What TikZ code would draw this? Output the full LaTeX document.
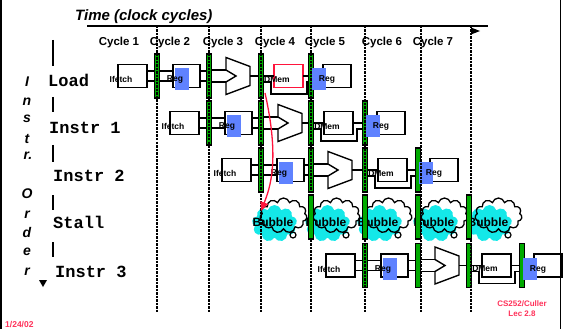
\documentclass[tikz,border=0pt]{standalone}
\usepackage{fontspec}
\setmainfont{Liberation Sans}
\newfontfamily\labelmono{Liberation Mono}
\usetikzlibrary{shapes.symbols,arrows.meta}

\definecolor{regfill}{RGB}{0,170,0}
\definecolor{readblue}{RGB}{95,130,255}
\definecolor{bubblecyan}{RGB}{20,232,232}
\definecolor{hazardred}{RGB}{255,20,60}
\definecolor{footred}{RGB}{255,50,90}

\tikzset{
  stagebox/.style={draw, line width=1.4pt, inner sep=0pt, outer sep=0pt, minimum height=23pt},
  pipereg/.style={draw, fill=regfill, line width=1.2pt, inner sep=0pt, outer sep=0pt,
    minimum width=5pt, minimum height=44pt},
  alubound/.style={inner sep=0pt, outer sep=0pt, minimum width=24pt, minimum height=37pt},
  stagetext/.style={font=\bfseries\fontsize{8.5}{9}\selectfont, inner sep=0pt},
  wire/.style={line width=1.3pt},
  cyclelabel/.style={font=\bfseries\fontsize{11.5}{12}\selectfont, anchor=base, inner sep=0pt},
  instrlabel/.style={font=\labelmono\bfseries\fontsize{17}{18}\selectfont, anchor=base west, inner sep=0pt},
  orderletter/.style={font=\bfseries\itshape\fontsize{14}{15}\selectfont, anchor=base, inner sep=0pt},
  cyclemark/.style={line width=1.3pt, dash pattern=on 2.5pt off 1pt},
  separator/.style={line width=2pt},
  hazard/.style={draw=hazardred, line width=1.3pt, -{Triangle[length=9pt,width=8pt]}},
}

% one pipelined instruction: id, centre y, x of the four pipeline registers, DMem outline colour
\newcommand\pipelinerow[7]{%
  \node[stagebox, minimum width=29pt] (if#1) at (#3-24.5,#2) {};
  \node[stagebox, minimum width=27pt] (rf#1) at (#3+29.5,#2) {};
  \node[alubound] (alu#1) at (#4+29,#2) {};
  \node[stagebox, minimum width=29pt, draw=#7] (dm#1) at (#5+27.5,#2) {};
  \node[stagebox, minimum width=28pt] (wb#1) at (#6+26,#2) {};
  \draw[line width=1.4pt] (alu#1.north west) -- ([yshift=9.5pt]alu#1.east)
    -- ([yshift=-9.5pt]alu#1.east) -- (alu#1.south west) -- ([yshift=-6pt]alu#1.west)
    -- ([xshift=10pt]alu#1.west) -- ([yshift=6pt]alu#1.west) -- cycle;
  \node[pipereg] (pa#1) at (#3,#2) {};
  \node[pipereg] (pb#1) at (#4,#2) {};
  \node[pipereg] (pc#1) at (#5,#2) {};
  \node[pipereg] (pd#1) at (#6,#2) {};
  \draw[wire] ([yshift=5pt]if#1.east) -- ([yshift=5pt]pa#1.west);
  \draw[wire] ([yshift=-5pt]if#1.east) -- ([yshift=-5pt]pa#1.west);
  \draw[wire] ([yshift=5pt]pa#1.east) -- ([yshift=5pt]rf#1.west);
  \draw[wire] ([yshift=-5pt]pa#1.east) -- ([yshift=-5pt]rf#1.west);
  \draw[wire] ([yshift=5pt]rf#1.east) -- ([yshift=5pt]pb#1.west);
  \draw[wire] ([yshift=-5pt]rf#1.east) -- ([yshift=-5pt]pb#1.west);
  \draw[wire] ([yshift=6pt]pb#1.east) -- ([yshift=6pt]alu#1.west);
  \draw[wire] ([yshift=-6pt]pb#1.east) -- ([yshift=-6pt]alu#1.west);
  \draw[wire] (alu#1.east) -- (pc#1.west);
  \draw[wire] (pc#1.east) -- (dm#1.west);
  \draw[wire] (dm#1.east) -- (pd#1.west);
  \draw[wire] ([yshift=-6pt]pc#1.east) -| ([xshift=-3pt,yshift=-18pt]dm#1.west)
    -| ([xshift=4pt,yshift=-6pt]dm#1.east) -- ([yshift=-6pt]pd#1.west);
  \fill[readblue] (#3+18,#2-8) rectangle (#3+32,#2+14);
  \fill[readblue] (#6+1,#2-8) rectangle (#6+15,#2+14);
  \node[stagetext] (tif#1) at (#3-36,#2+3.5) {Ifetch};
  \node[stagetext] (trf#1) at (#3+18,#2+3.5) {Reg};
  \node[stagetext] (tdm#1) at (#5+16,#2+3.5) {DMem};
  \node[stagetext] (twb#1) at (#6+16,#2+3.5) {Reg};
}

% a stall bubble: id, centre of its word
\newcommand\stallbubble[3]{%
  \node[cloud, cloud puffs=9, cloud ignores aspect, fill=bubblecyan, inner sep=0pt,
    minimum width=45pt, minimum height=37pt] (bc#1) at (#2+1.5,#3+1.5) {};
}
\newcommand\stalloutline[3]{%
  \node[cloud, cloud puffs=11, cloud ignores aspect, draw, line width=1.3pt, inner sep=0pt,
    minimum width=47pt, minimum height=35pt] (bo#1) at (#2+10.5,#3-6.5) {};
  \node[circle, draw, line width=1.2pt, inner sep=0pt, minimum size=6pt] (bt#1) at (#2+20,#3+13) {};
  \node[font=\bfseries\fontsize{12}{13}\selectfont, inner sep=0pt] (bw#1) at (#2,#3) {Bubble};
}

\begin{document}
\begin{tikzpicture}[x=1pt,y=-1pt]
\useasboundingbox (0,0) rectangle (563,329);
\fill[white] (0,0) rectangle (563,329);

% stall row bubbles
\stallbubble{1}{273}{222}
\stallbubble{2}{326}{222}
\stallbubble{3}{378}{222}
\stallbubble{4}{434}{222}
\stallbubble{5}{488}{222}
\stalloutline{1}{273}{222}
\stalloutline{2}{326}{222}
\stalloutline{3}{378}{222}
\stalloutline{4}{434}{222}
\stalloutline{5}{488}{222}

% instructions in flight
\pipelinerow{1}{76}{157}{209}{261}{311}{hazardred}
\pipelinerow{2}{123}{209}{261}{311}{365}{black}
\pipelinerow{3}{170}{261}{311}{365}{418}{black}
\pipelinerow{5}{265.5}{365}{418}{469}{522}{black}

% clock edges
\foreach \cx [count=\i] in {157,209,261,311,365,421,471}{
  \coordinate (ct\i) at (\cx,26);
  \coordinate (cb\i) at (\cx,313);
  \draw[cyclemark] (ct\i) -- (cb\i);
}

% pipeline registers of the stall row
\node[pipereg] (sr1) at (311,217) {};
\node[pipereg] (sr2) at (365,217) {};
\node[pipereg] (sr3) at (418,217) {};
\node[pipereg] (sr4) at (469,217) {};

% load-use hazard
\coordinate (hazsrc) at (265,93);
\coordinate (haztip) at (261,211);
\draw[hazard] (hazsrc) .. controls (280,160) and (270,188) .. (haztip);

% time axis
\node[font=\bfseries\itshape\fontsize{15}{16}\selectfont, anchor=base west, inner sep=0pt] (ttl) at (75,21) {Time (clock cycles)};
\coordinate (tl) at (87,26);
\coordinate (tr) at (488,26);
\draw[line width=1.6pt] (tl) -- (tr);
\fill (471,27.5) -- (480,31) -- (471,34.5) -- cycle;

\node[cyclelabel] (c1) at (119,46) {Cycle 1};
\node[cyclelabel] (c2) at (170,46) {Cycle 2};
\node[cyclelabel] (c3) at (223,46) {Cycle 3};
\node[cyclelabel] (c4) at (275,46) {Cycle 4};
\node[cyclelabel] (c5) at (325,46) {Cycle 5};
\node[cyclelabel] (c6) at (382,46) {Cycle 6};
\node[cyclelabel] (c7) at (433,46) {Cycle 7};

% instruction order axis
\node[orderletter] (o1) at (27,87) {I};
\node[orderletter] (o2) at (27,106) {n};
\node[orderletter] (o3) at (27,123) {s};
\node[orderletter] (o4) at (27,143) {t};
\node[orderletter] (o5) at (28,160) {r.};
\node[orderletter] (o6) at (27,198) {O};
\node[orderletter] (o7) at (27,218) {r};
\node[orderletter] (o8) at (27,237) {d};
\node[orderletter] (o9) at (27,255) {e};
\node[orderletter] (o10) at (27,275) {r};
\fill (39,280) -- (47,280) -- (43,287) -- cycle;

\node[instrlabel] (l1) at (48,87) {Load};
\node[instrlabel] (l2) at (49,134) {Instr 1};
\node[instrlabel] (l3) at (53,182) {Instr 2};
\node[instrlabel] (l4) at (53,228) {Stall};
\node[instrlabel] (l5) at (55,277) {Instr 3};
\draw[separator] (53,40) -- (53,66);
\draw[separator] (53,97) -- (53,112);
\draw[separator] (53,145) -- (53,162);
\draw[separator] (53,195) -- (53,210);
\draw[separator] (53,242) -- (53,257);

% slide frame and footer
\draw[line width=1.5pt] (0.75,0) -- (0.75,329);
\draw[line width=1.5pt] (560.5,0) -- (560.5,329);
\node[font=\bfseries\fontsize{8.5}{9}\selectfont, text=footred, anchor=base west, inner sep=0pt] (date) at (5,327) {1/24/02};
\node[font=\bfseries\fontsize{8}{10}\selectfont, text=footred, align=center, anchor=base, inner sep=0pt] (course) at (522,316) {CS252/Culler\\Lec 2.8};
\end{tikzpicture}
\end{document}
